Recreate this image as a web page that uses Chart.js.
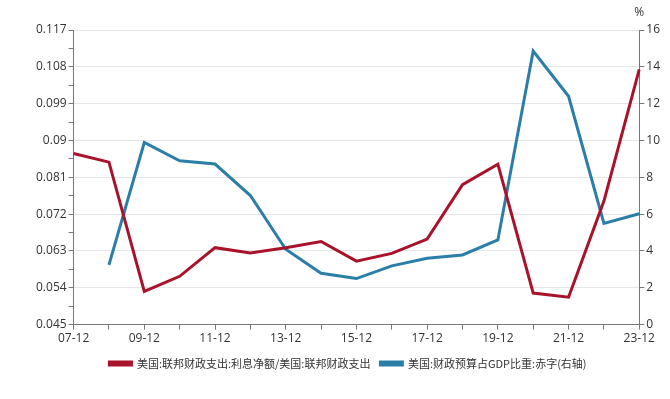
<!DOCTYPE html>
<html>
<head>
<meta charset="utf-8">
<script src="https://cdn.jsdelivr.net/npm/chart.js@4/dist/chart.umd.min.js"></script>
<style>
  html, body { margin: 0; padding: 0; background: #fff; }
  #wrap { width: 670px; height: 399px; }
</style>
</head>
<body>
<div id="wrap"><canvas id="my-chart" width="670" height="399"></canvas></div>
<script>
const years = ["07-12", "08-12", "09-12", "10-12", "11-12", "12-12", "13-12", "14-12", "15-12",
  "16-12", "17-12", "18-12", "19-12", "20-12", "21-12", "22-12", "23-12"];

// 利息净额 / 联邦财政支出 (left axis)
const interestShare = [0.0868, 0.0847, 0.0531, 0.0568, 0.0638, 0.0625, 0.0638, 0.0653, 0.0605,
  0.0624, 0.0659, 0.0792, 0.0842, 0.0527, 0.0517, 0.0752, 0.1074];

// 财政赤字占GDP比重, % (right axis), no value for 07-12
const deficitPct = [null, 3.24, 9.89, 8.9, 8.72, 7.01, 4.09, 2.79, 2.5,
  3.19, 3.6, 3.78, 4.6, 14.86, 12.4, 5.5, 6.02];

const leftTicks = ["0.045", "0.054", "0.063", "0.072", "0.081", "0.09", "0.099", "0.108", "0.117"];
const rightTicks = [0, 2, 4, 6, 8, 10, 12, 14, 16];

const seriesNames = ["美国:联邦财政支出:利息净额/美国:联邦财政支出", "美国:财政预算占GDP比重:赤字(右轴)"];

const red = "#a8122b";
const blue = "#2b7ea8";
const axisGray = "#777";
const textColor = "#333";
const tickFont = { family: "'Open Sans', 'Noto Sans', sans-serif", size: 12 };

// left axis has a minor tick between every labelled one
const leftValues = [];
leftTicks.forEach((t, i) => {
  const v = parseFloat(t);
  leftValues.push(v);
  if (i < leftTicks.length - 1) leftValues.push((v + parseFloat(leftTicks[i + 1])) / 2);
});

const percentLabel = {
  id: "percentLabel",
  afterDraw(chart) {
    const s = chart.scales.y1;
    const ctx = chart.ctx;
    ctx.save();
    ctx.font = "12px 'Open Sans', sans-serif";
    ctx.fillStyle = textColor;
    ctx.textAlign = "center";
    ctx.textBaseline = "middle";
    ctx.fillText("%", s.left, s.top - 17);
    ctx.restore();
  }
};

const ctx = document.getElementById("my-chart").getContext("2d");
const chart = new Chart(ctx, {
  type: "line",
  data: {
    labels: years,
    datasets: [
      {
        label: seriesNames[0],
        data: interestShare,
        borderColor: red,
        backgroundColor: red,
        borderWidth: 3,
        pointRadius: 0,
        tension: 0,
        yAxisID: "y",
      },
      {
        label: seriesNames[1],
        data: deficitPct,
        borderColor: blue,
        backgroundColor: blue,
        borderWidth: 3,
        pointRadius: 0,
        tension: 0,
        yAxisID: "y1",
      },
    ],
  },
  options: {
    responsive: false,
    animation: false,
    layout: { padding: { left: 34, right: 8, top: 30, bottom: 20 } },
    plugins: {
      legend: {
        display: true,
        position: "bottom",
        labels: {
          color: textColor,
          font: { family: "'Noto Sans CJK SC', sans-serif", size: 11 },
          boxWidth: 22,
          boxHeight: 3,
          padding: 10,
        },
      },
      tooltip: { enabled: false },
    },
    scales: {
      x: {
        offset: false,
        grid: { drawOnChartArea: false, tickLength: 5, tickColor: axisGray },
        border: { color: axisGray },
        ticks: {
          autoSkip: false,
          maxRotation: 0,
          color: textColor,
          font: tickFont,
          padding: 2,
          callback: (v, i) => (i % 2 === 0 ? years[i] : ""),
        },
      },
      y: {
        position: "left",
        min: 0.045,
        max: 0.117,
        afterBuildTicks: (scale) => {
          scale.ticks = leftValues.map((v) => ({ value: v }));
        },
        grid: {
          color: (c) => (c.index % 2 === 0 ? "#e6e6e6" : "rgba(0,0,0,0)"),
          tickColor: axisGray,
          tickLength: 5,
        },
        border: { color: axisGray },
        ticks: {
          color: textColor,
          font: tickFont,
          padding: 2,
          callback: (v, i) => (i % 2 === 0 ? leftTicks[i / 2] : ""),
        },
      },
      y1: {
        position: "right",
        min: 0,
        max: 16,
        afterBuildTicks: (scale) => {
          scale.ticks = rightTicks.map((v) => ({ value: v }));
        },
        grid: { drawOnChartArea: false, tickColor: axisGray, tickLength: 5 },
        border: { color: axisGray },
        ticks: { color: textColor, font: tickFont, padding: 2 },
      },
    },
  },
  plugins: [percentLabel],
});
</script>
</body>
</html>
